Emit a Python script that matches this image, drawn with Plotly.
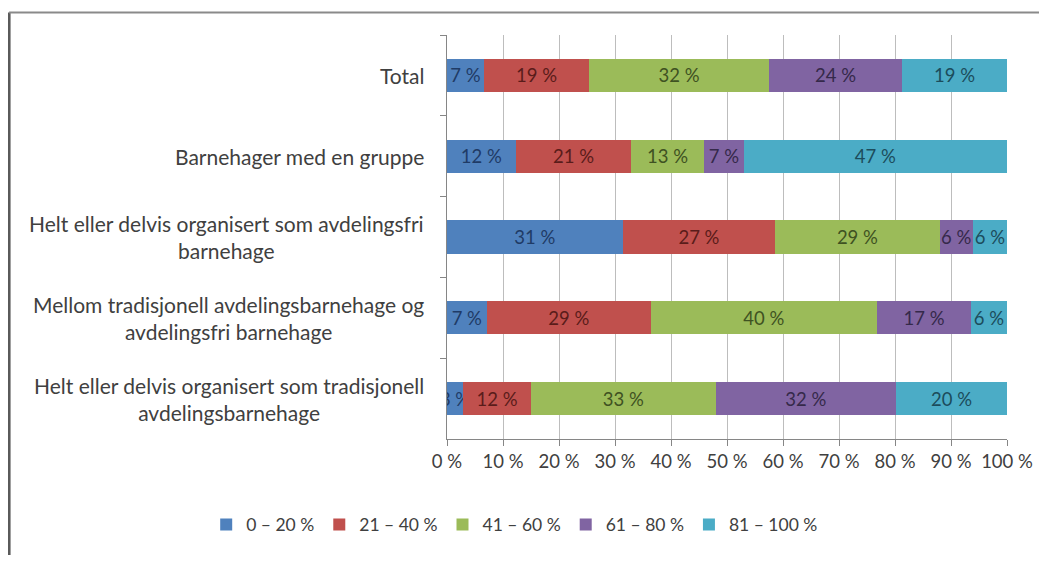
import plotly.graph_objects as go

CATEGORIES = [
    "Total",
    "Barnehager med en gruppe",
    "Helt eller delvis organisert som avdelingsfri<br>barnehage",
    "Mellom tradisjonell avdelingsbarnehage og<br>avdelingsfri barnehage",
    "Helt eller delvis organisert som tradisjonell<br>avdelingsbarnehage",
]
SERIES = ["0 – 20 %", "21 – 40 %", "41 – 60 %", "61 – 80 %", "81 – 100 %"]
VALUES = [
    [6.6, 12.3, 31.4, 7.1, 2.9],
    [18.8, 20.6, 27.2, 29.3, 12.1],
    [32.1, 13.0, 29.4, 40.4, 33.0],
    [23.8, 7.1, 5.9, 16.8, 32.2],
    [18.7, 47.0, 6.1, 6.4, 19.8],
]
X_TICKS = [0, 10, 20, 30, 40, 50, 60, 70, 80, 90, 100]

COLORS = ["#4F81BD", "#C0504D", "#9BBB59", "#8064A2", "#4BACC6"]
TEXT_COLORS = ["#1F3B66", "#5A1C1A", "#3F5222", "#35294A", "#1C4C5C"]
FONT = "Lato, Carlito, 'Open Sans', sans-serif"

fig = go.Figure()
for name, vals, color, tcolor in zip(SERIES, VALUES, COLORS, TEXT_COLORS):
    fig.add_trace(go.Bar(
        y=CATEGORIES, x=vals, name=name, orientation="h",
        marker={"color": color, "line": {"width": 0}},
        texttemplate="%{x:.0f} %", textposition="inside", insidetextanchor="middle",
        textangle=0, textfont={"color": tcolor, "size": 18.5, "family": FONT},
    ))

for cat in CATEGORIES:
    fig.add_annotation(
        text=cat, x=0, y=cat, xref="paper", yref="y", xanchor="right", yanchor="middle",
        xshift=-21, align="center", showarrow=False,
        font={"size": 21, "color": "#404040", "family": FONT},
    )

# outer frame like the original screenshot
fig.add_shape(type="line", xref="paper", yref="paper", x0=-0.782, x1=-0.782, y0=-0.4, y1=1.056,
              line={"color": "#5a5a5a", "width": 3})
fig.add_shape(type="line", xref="paper", yref="paper", x0=-0.782, x1=1.2, y0=1.056, y1=1.056,
              line={"color": "#8a8a8a", "width": 2})

# page body has an 8px margin, so the figure is sized/offset to keep the plot area in place
fig.update_layout(
    barmode="stack", bargap=0.59,
    width=1031, height=547,
    paper_bgcolor="white", plot_bgcolor="white",
    font={"family": FONT, "color": "#404040", "size": 18.5},
    margin={"l": 439, "r": 32, "t": 27, "b": 112},
    uniformtext={"minsize": 18.5, "mode": "show"},
    showlegend=True,
    legend={"orientation": "h", "x": -0.43, "xanchor": "left", "y": -0.212, "yanchor": "middle",
            "traceorder": "normal", "font": {"size": 17.5, "color": "#404040"},
            "itemwidth": 30, "tracegroupgap": 0},
)
fig.update_xaxes(
    range=[0, 100], tickvals=X_TICKS, ticktext=[f"{t} %" for t in X_TICKS],
    showgrid=True, gridcolor="#BDBDBD", gridwidth=1, automargin=False,
    showline=True, linecolor="#868686", ticks="outside", ticklen=6, tickcolor="#868686",
    zeroline=False, tickfont={"size": 18.5, "color": "#404040"},
)
fig.update_yaxes(
    categoryorder="array", categoryarray=CATEGORIES, autorange="reversed", automargin=False,
    showticklabels=False, showline=True, linecolor="#868686",
    ticks="outside", tickson="boundaries", ticklen=6, tickcolor="#868686", showgrid=False,
)

fig.write_html("out.html")
